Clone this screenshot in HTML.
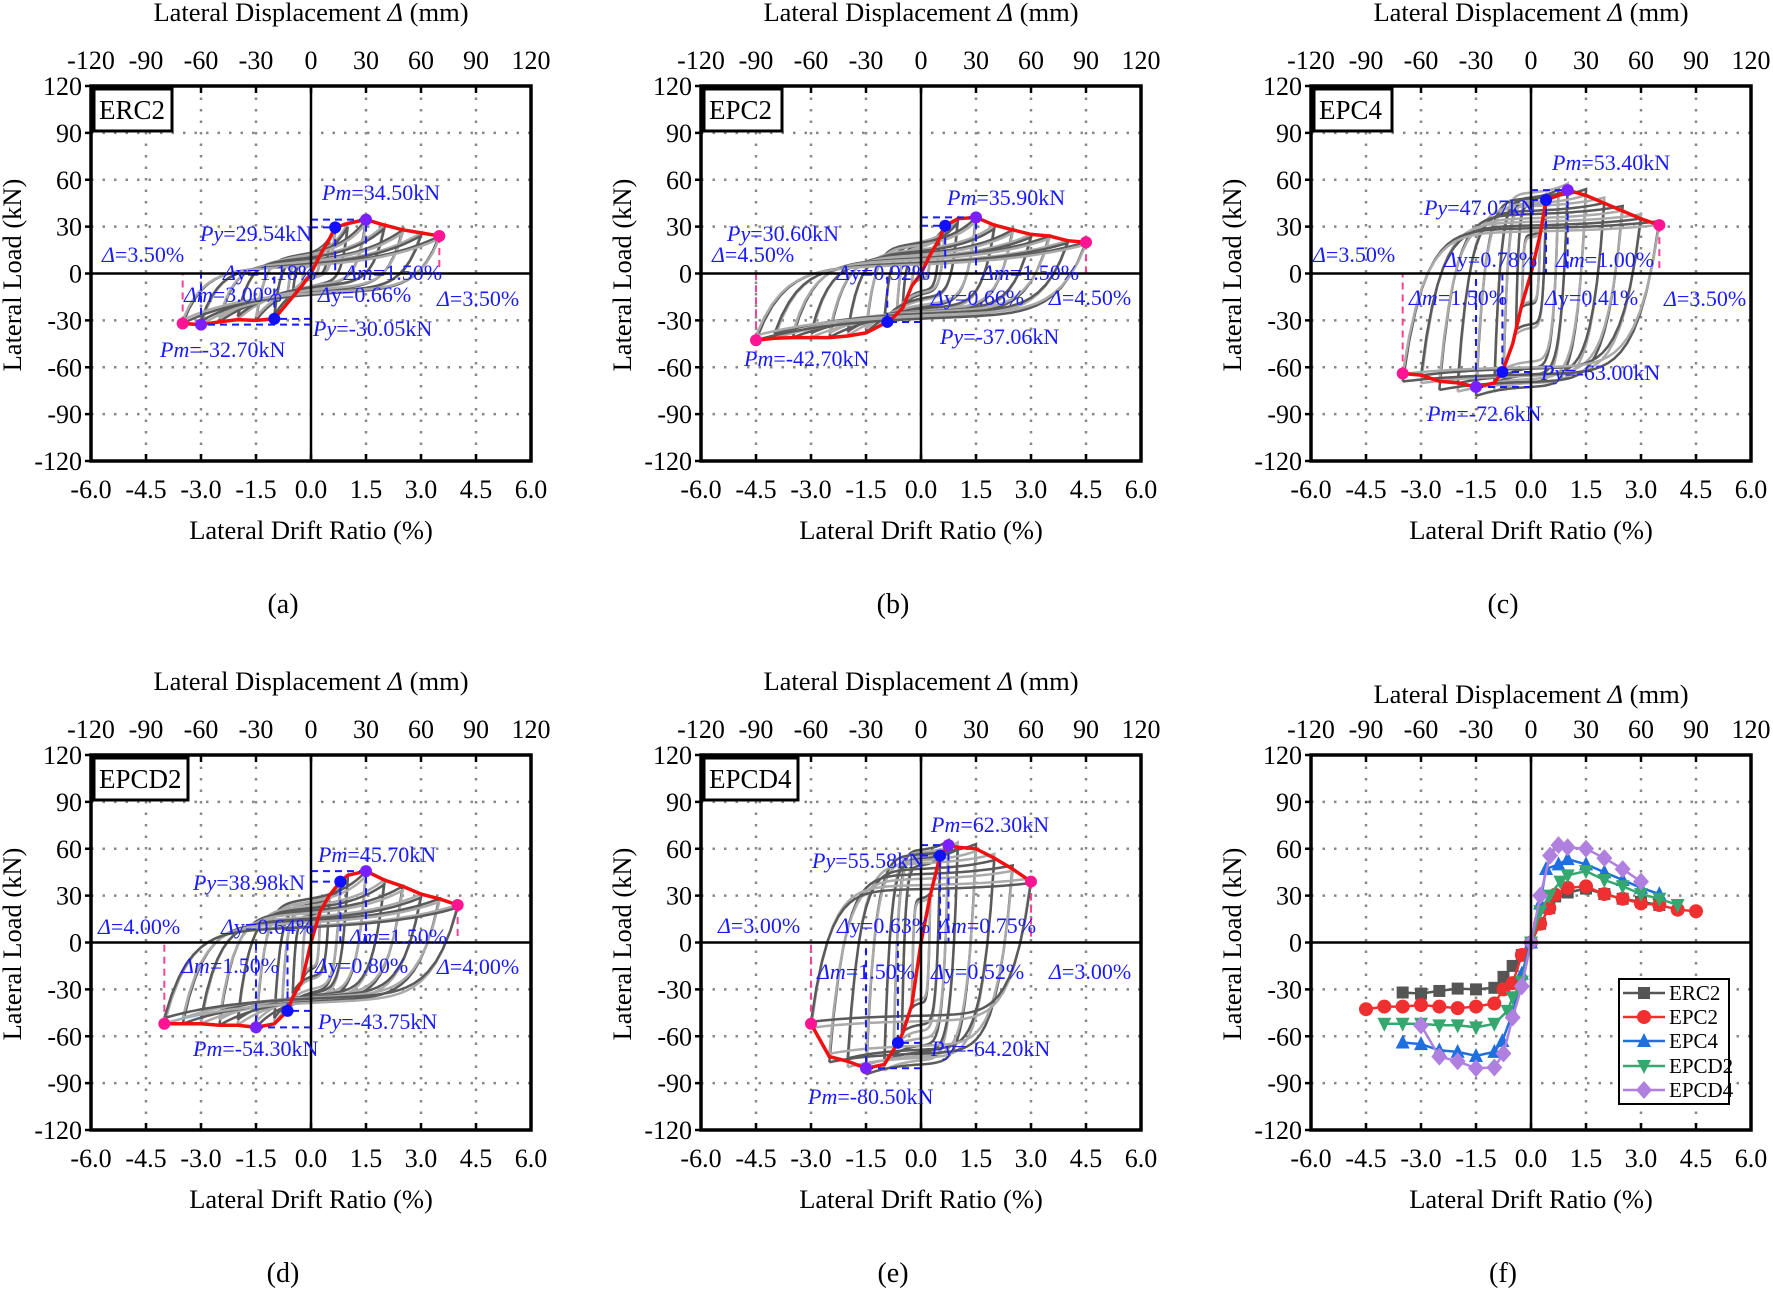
<!DOCTYPE html>
<html><head><meta charset="utf-8"><style>
html,body{margin:0;padding:0;background:#fff;}
svg{display:block;font-family:"Liberation Serif",serif;}
</style></head><body>
<svg id="s" width="1773" height="1291" viewBox="0 0 1773 1291" xmlns="http://www.w3.org/2000/svg"></svg>
<script>
var S=document.getElementById('s');var out='';
var W=440,H=375;
function panel(L,T,cfg){
  function X(d){return L+(d+6)/12*W;}
  function Y(v){return T+(120-v)/240*H;}
  var g='';
  [-4.5,-3,-1.5,1.5,3,4.5].forEach(function(d){g+='<line x1="'+X(d)+'" y1="'+T+'" x2="'+X(d)+'" y2="'+(T+H)+'" stroke="#888" stroke-width="2.5" stroke-dasharray="2.5 9"/>';});
  [-90,-60,-30,30,60,90].forEach(function(v){g+='<line x1="'+L+'" y1="'+Y(v)+'" x2="'+(L+W)+'" y2="'+Y(v)+'" stroke="#888" stroke-width="2.5" stroke-dasharray="2.5 9"/>';});
  if(cfg.pos){
    var amps=cfg.pos.map(function(p){return p[0];});
    function interp(arr,x){x=Math.abs(x);var pr=[0,0];for(var i=0;i<arr.length;i++){var q=arr[i];var qx=Math.abs(q[0]);if(x<=qx){var t=(x-Math.abs(pr[0]))/(qx-Math.abs(pr[0])||1);return pr[1]+(q[1]-pr[1])*t;}pr=q;}return arr[arr.length-1][1];}
    var p=cfg.pinch;
    function gf(s){var fat=1-Math.pow(1-s,12);var pin=0.45*(1-Math.pow(1-s,14))+0.2*s+0.35*Math.pow(s,5);return (1-p)*fat+p*pin;}
    amps.forEach(function(a,i){
      for(var c=0;c<2;c++){
        var an=Math.min(a,cfg.nmax);
        var Pp=interp(cfg.pos,a)*(c?0.93:1)*(cfg.ob||1), Pn=interp(cfg.neg,an)*(c?0.93:1)*(cfg.ob||1);
        var pts=[];
        for(var k=0;k<=40;k++){var s=k/40;var x=-an+(a+an)*s;pts.push(X(x).toFixed(1)+','+Y(Pn+(Pp-Pn)*gf(s)).toFixed(1));}
        for(var k=0;k<=40;k++){var s=k/40;var x=a-(a+an)*s;pts.push(X(x).toFixed(1)+','+Y(Pp+(Pn-Pp)*gf(s)).toFixed(1));}
        var col=((i+c)%2)?'#aaaaaa':'#5a5a5a';
        g+='<polyline points="'+pts.join(' ')+'" fill="none" stroke="'+col+'" stroke-width="2.5"/>';
      }
    });
    var env=cfg.neg.slice().reverse().concat([[0,0]]).concat(cfg.pos);
    g+='<polyline points="'+env.map(function(q){return X(q[0]).toFixed(1)+','+Y(q[1]).toFixed(1);}).join(' ')+'" fill="none" stroke="#f01010" stroke-width="3.5"/>';
    cfg.dots.forEach(function(d){
      if(d[2]!='#ff1493')g+='<polyline points="'+X(0)+','+Y(d[1])+' '+X(d[0])+','+Y(d[1])+' '+X(d[0])+','+Y(0)+'" fill="none" stroke="#1a1aff" stroke-width="2" stroke-dasharray="7 5"/>';
      else g+='<line x1="'+X(d[0])+'" y1="'+Y(d[1])+'" x2="'+X(d[0])+'" y2="'+Y(0)+'" stroke="#ff4090" stroke-width="2" stroke-dasharray="7 5"/>';
    });
    cfg.dots.forEach(function(d){g+='<circle cx="'+X(d[0])+'" cy="'+Y(d[1])+'" r="6" fill="'+d[2]+'"/>';});
  }
  if(cfg.series){
    cfg.series.forEach(function(se){
      var pts=se.d.map(function(q){return [X(q[0]),Y(q[1])];});
      g+='<polyline points="'+pts.map(function(q){return q[0].toFixed(1)+','+q[1].toFixed(1);}).join(' ')+'" fill="none" stroke="'+se.c+'" stroke-width="2.5"/>';
      pts.forEach(function(q){g+=marker(se.m,q[0],q[1],se.c);});
    });
    var ly=[993,1017,1041,1066,1090];
    g+='<rect x="1619" y="979" width="110" height="125" fill="#fff" stroke="#000" stroke-width="2"/>';
    cfg.series.forEach(function(se,i){
      g+='<line x1="1623" y1="'+ly[i]+'" x2="1665" y2="'+ly[i]+'" stroke="'+se.c+'" stroke-width="2.5"/>'+marker(se.m,1644,ly[i],se.c);
      g+='<text x="1669" y="'+(ly[i]+7)+'" font-size="21">'+se.n+'</text>';
    });
  }
  g+='<line x1="'+X(0)+'" y1="'+T+'" x2="'+X(0)+'" y2="'+(T+H)+'" stroke="#000" stroke-width="2.5"/>';
  g+='<line x1="'+L+'" y1="'+Y(0)+'" x2="'+(L+W)+'" y2="'+Y(0)+'" stroke="#000" stroke-width="2.5"/>';
  g+='<rect x="'+L+'" y="'+T+'" width="'+W+'" height="'+H+'" fill="none" stroke="#000" stroke-width="3.5"/>';
  for(var v=-120;v<=120;v+=30){g+='<line x1="'+(L-6)+'" y1="'+Y(v)+'" x2="'+L+'" y2="'+Y(v)+'" stroke="#000" stroke-width="2.5"/>';
    g+='<text x="'+(L-9)+'" y="'+(Y(v)+9)+'" font-size="26" text-anchor="end">'+v+'</text>';}
  for(var d=-6;d<=6.01;d+=1.5){
    g+='<line x1="'+X(d)+'" y1="'+(T+H)+'" x2="'+X(d)+'" y2="'+(T+H-7)+'" stroke="#000" stroke-width="2.5"/>';
    g+='<line x1="'+X(d)+'" y1="'+T+'" x2="'+X(d)+'" y2="'+(T+7)+'" stroke="#000" stroke-width="2.5"/>';
    g+='<text x="'+X(d)+'" y="'+(T+H+37)+'" font-size="26" text-anchor="middle">'+d.toFixed(1)+'</text>';
    g+='<text x="'+X(d)+'" y="'+(T-17)+'" font-size="26" text-anchor="middle">'+Math.round(d*20)+'</text>';
  }
  g+='<text x="'+(L+220)+'" y="'+(T+(cfg.series?-52:-65))+'" font-size="26.5" text-anchor="middle">Lateral Displacement <tspan font-style="italic">Δ</tspan> (mm)</text>';
  g+='<text x="'+(L+220)+'" y="'+(T+453)+'" font-size="26.5" text-anchor="middle">Lateral Drift Ratio (%)</text>';
  g+='<text transform="translate('+(L-70)+','+(T+189)+') rotate(-90)" font-size="26.5" text-anchor="middle">Lateral Load (kN)</text>';
  g+='<text x="'+(L+192)+'" y="'+(T+527)+'" font-size="28" text-anchor="middle">('+cfg.lab+')</text>';
  if(cfg.name){var tw=cfg.name.length*16+14;g+='<rect x="'+(L+3)+'" y="'+(T+3)+'" width="'+tw+'" height="42" fill="#fff" stroke="#000" stroke-width="3"/><text x="'+(L+8)+'" y="'+(T+33)+'" font-size="27">'+cfg.name+'</text>';}
  (cfg.ann||[]).forEach(function(a){
    var t=a[2];var html;
    if(t[0]=='P'){html='<tspan font-style="italic">'+t.slice(0,2)+'</tspan>'+t.slice(2);}
    else if(t[1]=='m'){html='<tspan font-style="italic">Δm</tspan>'+t.slice(2);}
    else html='<tspan font-style="italic">Δ</tspan>'+t.slice(1);
    g+='<text x="'+(L+a[0])+'" y="'+(T+a[1])+'" font-size="22" fill="#1a1aff">'+html+'</text>';
  });
  return g;
}
function marker(m,x,y,c){
  var r=6;
  if(m=='s')return '<rect x="'+(x-r)+'" y="'+(y-r)+'" width="'+2*r+'" height="'+2*r+'" fill="'+c+'"/>';
  if(m=='o')return '<circle cx="'+x+'" cy="'+y+'" r="'+(r+1)+'" fill="'+c+'"/>';
  if(m=='t')return '<polygon points="'+x+','+(y-r-2)+' '+(x+r+1)+','+(y+r)+' '+(x-r-1)+','+(y+r)+'" fill="'+c+'"/>';
  if(m=='v')return '<polygon points="'+x+','+(y+r+2)+' '+(x+r+1)+','+(y-r)+' '+(x-r-1)+','+(y-r)+'" fill="'+c+'"/>';
  return '<polygon points="'+x+','+(y-r-3)+' '+(x+r+2)+','+y+' '+x+','+(y+r+3)+' '+(x-r-2)+','+y+'" fill="'+c+'"/>';
}
var PU='#7b1fff',BL='#1010ff',PK='#ff1493';
var ERCp=[[0.25,12],[0.5,22],[0.66,29.5],[1,32],[1.5,34.5],[2,31],[2.5,28],[3,26],[3.5,24]];
var ERCn=[[-0.25,-8],[-0.5,-15],[-0.75,-22],[-1,-29],[-1.5,-30],[-2,-29.5],[-2.5,-31],[-3,-32.7],[-3.5,-32]];
var EPC2p=[[0.25,12],[0.5,22],[0.66,30.6],[1,35],[1.5,35.9],[2,31],[2.5,28],[3,25],[3.5,24],[4,21],[4.5,20]];
var EPC2n=[[-0.25,-8],[-0.5,-22],[-0.75,-28],[-0.92,-31],[-1.5,-38],[-2,-40],[-2.5,-41],[-3,-41],[-3.5,-41],[-4,-41.5],[-4.5,-42.7]];
var EPC4p=[[0.25,25],[0.41,47.07],[0.75,50],[1,53.4],[1.5,50],[2,45],[2.5,40],[3,35],[3.5,31]];
var EPC4n=[[-0.25,-20],[-0.5,-45],[-0.78,-63],[-1,-70],[-1.5,-72.6],[-2,-70],[-2.5,-69],[-3,-65],[-3.5,-64]];
var EPD2p=[[0.25,20],[0.5,30],[0.8,38.98],[1,43],[1.5,45.7],[2,40],[2.5,36],[3,31],[3.5,28],[4,24]];
var EPD2n=[[-0.25,-25],[-0.5,-35],[-0.64,-43.75],[-1,-52],[-1.5,-54.3],[-2,-53],[-2.5,-53],[-3,-52],[-3.5,-52],[-4,-52]];
var EPD4p=[[0.25,30],[0.52,55.58],[0.75,62.3],[1,61],[1.5,60],[2,54],[2.5,47],[3,39]];
var EPD4n=[[-0.25,-40],[-0.5,-58],[-0.63,-64.2],[-1,-78],[-1.5,-80.5],[-2,-76],[-2.5,-73],[-3,-52]];
out+=panel(91,86,{lab:'a',name:'ERC2',pos:ERCp,neg:ERCn,nmax:3.5,pinch:0.75,
 dots:[[0.66,29.5,BL],[1.5,34.5,PU],[3.5,24,PK],[-1,-29,BL],[-3,-32.7,PU],[-3.5,-32,PK]],
 ann:[[231,114,'Pm=34.50kN'],[109,155,'Py=29.54kN'],[11,176,'Δ=3.50%'],[132,194,'Δy=1.18%'],[253,194,'Δm=1.50%'],[93,216,'Δm=3.00%'],[227,216,'Δy=0.66%'],[346,220,'Δ=3.50%'],[222,250,'Py=-30.05kN'],[69,271,'Pm=-32.70kN']]});
out+=panel(701,86,{lab:'b',name:'EPC2',pos:EPC2p,neg:EPC2n,nmax:4.5,pinch:0.5,
 dots:[[0.66,30.6,BL],[1.5,35.9,PU],[4.5,20,PK],[-0.92,-31,BL],[-4.5,-42.7,PK]],
 ann:[[246,119,'Pm=35.90kN'],[26,155,'Py=30.60kN'],[11,176,'Δ=4.50%'],[136,194,'Δy=0.92%'],[280,194,'Δm=1.50%'],[230,219,'Δy=0.66%'],[348,219,'Δ=4.50%'],[239,258,'Py=-37.06kN'],[43,280,'Pm=-42.70kN']]});
out+=panel(1311,86,{lab:'c',name:'EPC4',pos:EPC4p,neg:EPC4n,nmax:3.5,pinch:0.1,ob:1.08,
 dots:[[0.41,47.07,BL],[1,53.4,PU],[3.5,31,PK],[-0.78,-63,BL],[-1.5,-72.6,PU],[-3.5,-64,PK]],
 ann:[[241,84,'Pm=53.40kN'],[113,129,'Py=47.07kN'],[2,176,'Δ=3.50%'],[133,181,'Δy=0.78%'],[245,181,'Δm=1.00%'],[98,219,'Δm=1.50%'],[234,219,'Δy=0.41%'],[353,220,'Δ=3.50%'],[230,294,'Py=-63.00kN'],[116,335,'Pm=-72.6kN']]});
out+=panel(91,755,{lab:'d',name:'EPCD2',pos:EPD2p,neg:EPD2n,nmax:4,pinch:0.4,
 dots:[[0.8,38.98,BL],[1.5,45.7,PU],[4,24,PK],[-0.64,-43.75,BL],[-1.5,-54.3,PU],[-4,-52,PK]],
 ann:[[227,107,'Pm=45.70kN'],[102,135,'Py=38.98kN'],[7,179,'Δ=4.00%'],[130,179,'Δy=0.64%'],[258,189,'Δm=1.50%'],[90,218,'Δm=1.50%'],[224,218,'Δy=0.80%'],[346,219,'Δ=4.00%'],[227,274,'Py=-43.75kN'],[102,301,'Pm=-54.30kN']]});
out+=panel(701,755,{lab:'e',name:'EPCD4',pos:EPD4p,neg:EPD4n,nmax:3,pinch:0.1,ob:1.05,
 dots:[[0.52,55.58,BL],[0.75,62.3,PU],[3,39,PK],[-0.63,-64.2,BL],[-1.5,-80.5,PU],[-3,-52,PK]],
 ann:[[230,77,'Pm=62.30kN'],[111,113,'Py=55.58kN'],[17,178,'Δ=3.00%'],[136,178,'Δy=0.63%'],[237,178,'Δm=0.75%'],[116,224,'Δm=1.50%'],[230,224,'Δy=0.52%'],[348,224,'Δ=3.00%'],[230,301,'Py=-64.20kN'],[107,349,'Pm=-80.50kN']]});
function full(p,n){return n.slice().reverse().concat([[0,0]]).concat(p);}
out+=panel(1311,755,{lab:'f',series:[
 {n:'ERC2',c:'#555555',m:'s',d:full(ERCp,ERCn)},
 {n:'EPC2',c:'#f03030',m:'o',d:full(EPC2p,[[-0.25,-8],[-0.5,-26],[-0.75,-30],[-1,-39],[-1.5,-41],[-2,-42],[-2.5,-41],[-3,-40],[-3.5,-41],[-4,-41],[-4.5,-42.7]])},
 {n:'EPC4',c:'#1e6fe0',m:'t',d:full(EPC4p,EPC4n)},
 {n:'EPCD2',c:'#35a870',m:'v',d:full(EPD2p,EPD2n)},
 {n:'EPCD4',c:'#b080e0',m:'d',d:full(EPD4p,[[-0.25,-28],[-0.5,-48],[-0.75,-71],[-1,-80],[-1.5,-80.5],[-2,-76],[-2.5,-73],[-3,-53]])}
]});
S.innerHTML=out;
</script>
</body></html>
